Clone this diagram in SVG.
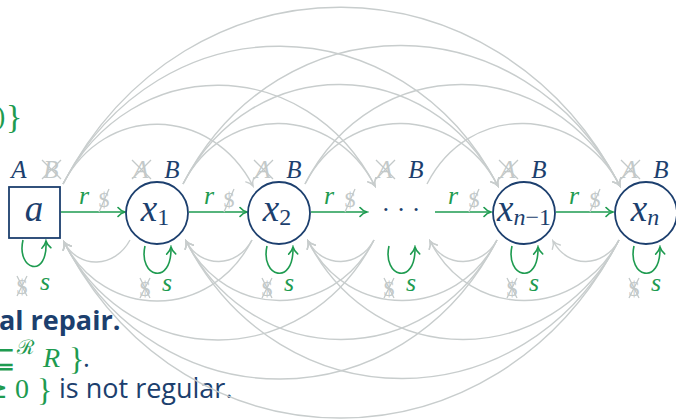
<svg xmlns="http://www.w3.org/2000/svg" width="676" height="420" viewBox="0 0 676 420">
<style>
.arc{fill:none;stroke:#c8cdcd;stroke-width:1.4;marker-end:url(#ga)}
.gr{fill:none;stroke:#1e9b50;stroke-width:1.6}
.ga{marker-end:url(#gn)}
.node{fill:#fff;stroke:#1c3f6e;stroke-width:1.8}
.m{font-family:"Liberation Serif",serif;font-style:italic}
.u{font-family:"Liberation Serif",serif;font-style:normal}
.nv{fill:#1c3f6e}
.gn{fill:#1e9b50}
.gy{fill:#c3c9c9}
.x{stroke:#c3c9c9;stroke-width:1.3;fill:none}
.lab{font-family:"Liberation Serif",serif;font-style:italic;font-size:37px;fill:#1c3f6e}
.sub{font-size:24px;font-style:normal}
.subi{font-size:24px;font-style:italic}
.sans{font-family:"Open Sans","Liberation Sans",sans-serif;fill:#1c3f6e}
</style>
<defs>
<marker id="ga" markerUnits="userSpaceOnUse" viewBox="-9 -6 11 12" refX="0" refY="0" markerWidth="11" markerHeight="12" orient="auto">
<path d="M-7,-4.5 C-4.5,-1.5 -1.5,-0.4 0,0 C-1.5,0.4 -4.5,1.5 -7,4.5" fill="none" stroke="#c8cdcd" stroke-width="1.4" stroke-linecap="round"/>
</marker>
<marker id="gn" markerUnits="userSpaceOnUse" viewBox="-9 -6 11 12" refX="0" refY="0" markerWidth="11" markerHeight="12" orient="auto">
<path d="M-7,-4.5 C-4.5,-1.5 -1.5,-0.4 0,0 C-1.5,0.4 -4.5,1.5 -7,4.5" fill="none" stroke="#1e9b50" stroke-width="1.6" stroke-linecap="round"/>
</marker>
</defs>
<rect width="676" height="420" fill="#fff"/>

<g id="text-left">
<text x="-4" y="125" class="u gn" font-size="28">)</text>
<text x="6" y="128" class="u gn" font-size="34">}</text>
<text x="-1" y="330" class="sans" font-size="27" font-weight="bold">al repair.</text>
<text x="16" y="368" text-anchor="end" font-family="DejaVu Sans,sans-serif" font-size="30" class="gn">⊑</text>
<text x="17" y="354" font-family="DejaVu Serif,serif" font-size="20" class="gn">ℛ</text>
<text x="43" y="367" class="m gn" font-size="28">R</text>
<text x="69" y="370" class="u gn" font-size="32">}</text>
<text x="83" y="367" class="sans" font-size="26">.</text>
<text x="8" y="398" text-anchor="end" font-family="DejaVu Sans,sans-serif" font-size="28" class="gn">≥</text>
<text x="15" y="398" class="u gn" font-size="28">0</text>
<text x="37" y="401" class="u gn" font-size="32">}</text>
<text x="59" y="398" class="sans" font-size="27">is not regular.</text>
</g>

<g id="connectors">
<path class="arc" d="M63,184 C105,103 211,105 253,186"/>
<path class="arc" d="M63,184 C132,51 306,53 375,186"/>
<path class="arc" d="M63,184 C159,-1 402,1 498,186"/>
<path class="arc" d="M63,184 C186,-53 497,-51 620,186"/>
<path class="arc" d="M183,184 C225,102 333,104 375,186"/>
<path class="arc" d="M183,184 C252,50 429,52 498,186"/>
<path class="arc" d="M183,184 C279,-2 524,0 620,186"/>
<path class="arc" d="M305,184 C347,102 456,104 498,186"/>
<path class="arc" d="M305,184 C374,50 551,52 620,186"/>
<path class="arc" d="M427,184 C469,102 578,104 620,186"/>

<path class="arc" d="M130,240 C115,268 79,270 64,242"/>
<path class="arc" d="M252,240 C211,320 105,322 64,242"/>
<path class="arc" d="M374,240 C306,372 132,374 64,242"/>
<path class="arc" d="M497,240 C402,424 159,426 64,242"/>
<path class="arc" d="M619,240 C497,476 186,478 64,242"/>
<path class="arc" d="M252,240 C237,268 201,269 186,241"/>
<path class="arc" d="M374,240 C333,320 227,321 186,241"/>
<path class="arc" d="M497,240 C429,372 254,373 186,241"/>
<path class="arc" d="M619,240 C524,424 281,425 186,241"/>
<path class="arc" d="M374,240 C359,268 323,269 308,241"/>
<path class="arc" d="M497,240 C456,320 349,321 308,241"/>
<path class="arc" d="M619,240 C551,372 376,373 308,241"/>
<path class="arc" d="M497,240 C482,268 445,269 430,241"/>
<path class="arc" d="M619,240 C578,320 471,321 430,241"/>
<path class="arc" d="M619,240 C604,268 568,269 553,241"/>

<path class="gr ga" d="M61,212 H125"/>
<path class="gr ga" d="M189,212 H247"/>
<path class="gr ga" d="M311,212 H367"/>
<path class="gr ga" d="M435,212 H491"/>
<path class="gr ga" d="M556,212 H613"/>

<path class="gr ga" d="M23,240 C16,270 48,280 46,241"/>
<path class="gr ga" d="M145,246 C138,277 172,287 171,247"/>
<path class="gr ga" d="M267,246 C260,277 294,287 293,247"/>
<path class="gr ga" d="M389,246 C382,277 416,287 415,247"/>
<path class="gr ga" d="M512,246 C505,277 539,287 538,247"/>
<path class="gr ga" d="M634,246 C627,277 661,287 660,247"/>
</g>

<g id="edge-labels">
<g class="m gn" font-size="26" text-anchor="middle">
<text x="84" y="204">r</text><text x="209" y="204">r</text><text x="329" y="204">r</text><text x="453" y="204">r</text><text x="574" y="204">r</text>
</g>
<g class="u gy" font-size="22" text-anchor="middle">
<text x="104" y="207">$</text><text x="229" y="207">$</text><text x="350" y="207">$</text><text x="474" y="207">$</text><text x="595" y="207">$</text>
</g>
<path class="x" d="M99,212 L109,189 M224,212 L234,189 M345,212 L355,189 M469,212 L479,189 M590,212 L600,189"/>

<g class="m gn" font-size="26" text-anchor="middle">
<text x="45" y="290">s</text><text x="167" y="291">s</text><text x="289" y="291">s</text><text x="411" y="291">s</text><text x="534" y="291">s</text><text x="656" y="291">s</text>
</g>
<g class="u gy" font-size="22" text-anchor="middle">
<text x="22" y="294">$</text><text x="145" y="296">$</text><text x="267" y="296">$</text><text x="389" y="296">$</text><text x="512" y="296">$</text><text x="634" y="296">$</text>
</g>
<path class="x" d="M17,276 L27,296 M27,276 L17,296 M140,278 L150,298 M150,278 L140,298 M262,278 L272,298 M272,278 L262,298 M384,278 L394,298 M394,278 L384,298 M507,278 L517,298 M517,278 L507,298 M629,278 L639,298 M639,278 L629,298"/>
</g>

<g id="node-a">
<rect class="node" x="9" y="187" width="51" height="51"/>
<text x="34" y="221" class="lab" text-anchor="middle">a</text>
<text x="19" y="178" class="m nv" font-size="25" text-anchor="middle">A</text>
<text x="51" y="178" class="m gy" font-size="25" text-anchor="middle">B</text>
<path class="x" d="M42,160 L61,179 M61,160 L42,179"/>
</g>

<g id="node-x1">
<circle class="node" cx="157" cy="213" r="31"/>
<text x="155" y="221" class="lab" text-anchor="middle">x<tspan class="sub" dy="4">1</tspan></text>
<text x="141" y="178" class="m gy" font-size="25" text-anchor="middle">A</text>
<path class="x" d="M132,160 L151,179 M151,160 L132,179"/>
<text x="172" y="178" class="m nv" font-size="25" text-anchor="middle">B</text>
</g>

<g id="node-x2">
<circle class="node" cx="279" cy="213" r="31"/>
<text x="277" y="221" class="lab" text-anchor="middle">x<tspan class="sub" dy="4">2</tspan></text>
<text x="263" y="178" class="m gy" font-size="25" text-anchor="middle">A</text>
<path class="x" d="M254,160 L273,179 M273,160 L254,179"/>
<text x="294" y="178" class="m nv" font-size="25" text-anchor="middle">B</text>
</g>

<g id="node-dots">
<text x="401" y="218" font-family="Liberation Serif,serif" font-size="26" class="nv" text-anchor="middle">· · ·</text>
<text x="385" y="178" class="m gy" font-size="25" text-anchor="middle">A</text>
<path class="x" d="M376,160 L395,179 M395,160 L376,179"/>
<text x="416" y="178" class="m nv" font-size="25" text-anchor="middle">B</text>
</g>

<g id="node-xn1">
<circle class="node" cx="524" cy="213" r="31"/>
<text x="524" y="221" class="lab" text-anchor="middle">x<tspan class="subi" dy="4">n</tspan><tspan class="sub">−1</tspan></text>
<text x="508" y="178" class="m gy" font-size="25" text-anchor="middle">A</text>
<path class="x" d="M499,160 L518,179 M518,160 L499,179"/>
<text x="539" y="178" class="m nv" font-size="25" text-anchor="middle">B</text>
</g>

<g id="node-xn">
<circle class="node" cx="646" cy="213" r="31"/>
<text x="645" y="221" class="lab" text-anchor="middle">x<tspan class="subi" dy="4">n</tspan></text>
<text x="630" y="178" class="m gy" font-size="25" text-anchor="middle">A</text>
<path class="x" d="M621,160 L640,179 M640,160 L621,179"/>
<text x="661" y="178" class="m nv" font-size="25" text-anchor="middle">B</text>
</g>
</svg>
